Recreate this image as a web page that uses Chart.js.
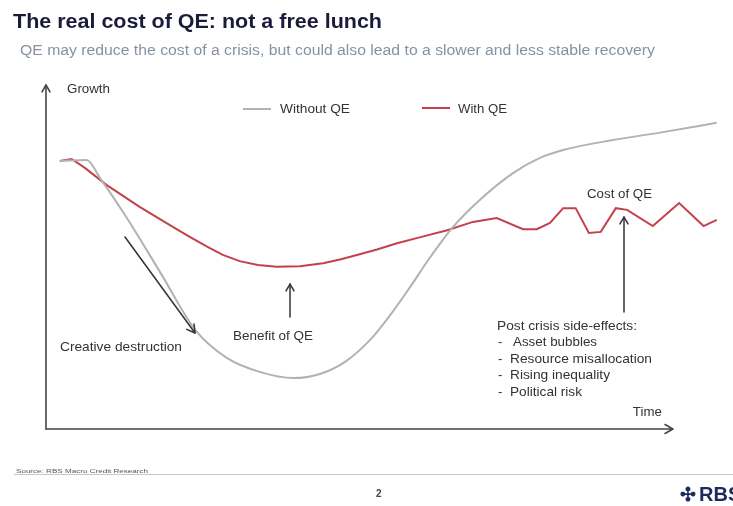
<!DOCTYPE html>
<html><head><meta charset="utf-8">
<script src="https://cdn.jsdelivr.net/npm/chart.js@4.4.1/dist/chart.umd.min.js"></script>
<style>html,body{margin:0;padding:0;background:#fff;overflow:hidden}canvas{display:block}</style>
</head><body>
<canvas id="c" width="733" height="506"></canvas>
<script>
// ---- data (time units: 0 = origin, 100 = end of time axis; growth units 0..100) ----
const seriesNames = ['Without QE', 'With QE'];
const timeWithoutQE   = [2.2, 6.5, 8.6, 12.6, 18.2, 23.8, 28.9, 34.1, 39.4, 43.7, 47.7, 51.7, 54.9, 58.1, 61.2, 64.9, 69.2, 74.5, 78.8, 82.5, 90.4, 98.4, 107.0];
const growthWithoutQE = [77.9, 78.2, 73.0, 62.2, 45.6, 28.8, 20.6, 16.6, 14.8, 16.0, 19.5, 25.9, 33.1, 41.3, 49.7, 58.7, 66.6, 74.4, 78.8, 81.1, 84.0, 86.3, 89.0];
const timeWithQE   = [2.2, 4.1, 6.2, 9.7, 15.0, 20.3, 23.0, 25.7, 28.2, 30.9, 33.8, 36.8, 40.5, 44.2, 46.9, 49.6, 52.8, 56.0, 59.6, 64.0, 68.1, 71.9, 76.1, 78.3, 80.4, 82.5, 84.5, 86.6, 88.5, 90.9, 92.7, 96.8, 101.0, 104.9, 107.0];
const growthWithQE = [77.9, 78.5, 75.9, 70.9, 64.5, 58.7, 55.8, 53.0, 50.6, 48.8, 47.7, 47.2, 47.3, 48.2, 49.3, 50.6, 52.2, 54.0, 55.7, 57.8, 60.2, 61.3, 58.1, 58.1, 59.9, 64.2, 64.2, 57.0, 57.3, 64.2, 63.7, 59.0, 65.7, 59.0, 60.8];
const timeAxisLabel = 'Time';
const growthAxisLabel = 'Growth';
const timeRange = [0, 108];
const growthRange = [0, 100];

const FONT = '"Liberation Sans", Arial, Helvetica, sans-serif';
const GREY = '#b2b2b2';
const RED = '#c4414b';
const INK = '#333333';

function zip(xs, ys) { return xs.map((x, i) => ({ x: x, y: ys[i] })); }

function txt(ctx, s, x, y, size, color, width, weight) {
  ctx.save();
  ctx.font = (weight || 'normal') + ' ' + size + 'px ' + FONT;
  ctx.fillStyle = color;
  ctx.textBaseline = 'alphabetic';
  const m = ctx.measureText(s).width;
  const k = width ? width / m : 1;
  ctx.translate(x, y);
  ctx.scale(k, 1);
  ctx.fillText(s, 0, 0);
  ctx.restore();
}

function arrow(ctx, x1, y1, x2, y2, color, lw, head) {
  ctx.save();
  ctx.strokeStyle = color; ctx.lineWidth = lw; ctx.lineCap = 'round'; ctx.lineJoin = 'round';
  ctx.beginPath(); ctx.moveTo(x1, y1); ctx.lineTo(x2, y2); ctx.stroke();
  const a = Math.atan2(y2 - y1, x2 - x1), h = head || 8, s = Math.PI / 6;
  ctx.beginPath();
  ctx.moveTo(x2 - h * Math.cos(a - s), y2 - h * Math.sin(a - s));
  ctx.lineTo(x2, y2);
  ctx.lineTo(x2 - h * Math.cos(a + s), y2 - h * Math.sin(a + s));
  ctx.stroke();
  ctx.restore();
}

const decor = {
  id: 'decor',
  beforeDraw(chart) {
    const ctx = chart.ctx;
    ctx.save(); ctx.fillStyle = '#ffffff'; ctx.fillRect(0, 0, chart.width, chart.height); ctx.restore();
  },
  beforeDatasetsDraw(chart) {
    const ctx = chart.ctx, xs = chart.scales.x, ys = chart.scales.y;
    const x0 = xs.getPixelForValue(0), y0 = ys.getPixelForValue(0);
    const xEnd = xs.getPixelForValue(100), yEnd = ys.getPixelForValue(100);
    arrow(ctx, x0, y0, x0, yEnd, '#444', 1.6, 8);
    arrow(ctx, x0, y0, xEnd, y0, '#444', 1.6, 9);
    txt(ctx, growthAxisLabel, x0 + 21, yEnd + 8, 13, INK, 43);
    txt(ctx, timeAxisLabel, xEnd - 40, y0 - 13, 13, INK, 29);
  },
  afterDraw(chart) {
    const ctx = chart.ctx;
    // titles
    txt(ctx, 'The real cost of QE: not a free lunch', 13, 28, 20, '#1b1b3a', 369, 'bold');
    txt(ctx, 'QE may reduce the cost of a crisis, but could also lead to a slower and less stable recovery', 20, 55, 14, '#8592a3', 635);
    // legend
    const ds = chart.data.datasets;
    ctx.save(); ctx.lineWidth = 2;
    ctx.strokeStyle = ds[0].borderColor; ctx.beginPath(); ctx.moveTo(243, 109); ctx.lineTo(271, 109); ctx.stroke();
    ctx.strokeStyle = ds[1].borderColor; ctx.beginPath(); ctx.moveTo(422, 108); ctx.lineTo(450, 108); ctx.stroke();
    ctx.restore();
    txt(ctx, ds[0].label, 280, 113, 13, INK, 70);
    txt(ctx, ds[1].label, 458, 113, 13, INK, 49);
    // annotations
    arrow(ctx, 125, 237, 195, 333, INK, 1.5, 9);
    txt(ctx, 'Creative destruction', 60, 351, 13, INK, 122);
    arrow(ctx, 290, 317, 290, 284, INK, 1.5, 8);
    txt(ctx, 'Benefit of QE', 233, 340, 13, INK, 80);
    txt(ctx, 'Cost of QE', 587, 198, 13, INK, 65);
    arrow(ctx, 624, 312, 624, 217, INK, 1.5, 8);
    txt(ctx, 'Post crisis side-effects:', 497, 330, 13, INK, 140);
    const items = [['Asset bubbles', 513, 84], ['Resource misallocation', 510, 142], ['Rising inequality', 510, 100], ['Political risk', 510, 72]];
    items.forEach((it, i) => {
      const yb = 346 + i * 16.7;
      txt(ctx, '-', 498, yb, 13, INK);
      txt(ctx, it[0], it[1], yb, 13, INK, it[2]);
    });
    // footer
    ctx.save(); ctx.strokeStyle = '#c8c8c8'; ctx.lineWidth = 1;
    ctx.beginPath(); ctx.moveTo(14, 474.5); ctx.lineTo(733, 474.5); ctx.stroke(); ctx.restore();
    txt(ctx, 'Source: RBS Macro Credit Research', 16, 473, 6, '#555', 132);
    txt(ctx, '2', 376, 497, 10, '#444', null, 'bold');
    txt(ctx, '\u2723', 680, 501, 19, '#1d2b5c', null, 'bold');
    txt(ctx, 'RBS', 699, 501, 20, '#1d2b5c', null, 'bold');
  }
};

new Chart(document.getElementById('c'), {
  type: 'line',
  data: {
    datasets: [
      { label: seriesNames[0], data: zip(timeWithoutQE, growthWithoutQE), borderColor: GREY, borderWidth: 2, pointRadius: 0, fill: false, cubicInterpolationMode: 'monotone' },
      { label: seriesNames[1], data: zip(timeWithQE, growthWithQE), borderColor: RED, borderWidth: 2, pointRadius: 0, fill: false, tension: 0 }
    ]
  },
  options: {
    responsive: false,
    animation: false,
    devicePixelRatio: 1,
    layout: { padding: { left: 46, right: 10, top: 85, bottom: 77 } },
    scales: {
      x: { type: 'linear', min: timeRange[0], max: timeRange[1], display: false },
      y: { type: 'linear', min: growthRange[0], max: growthRange[1], display: false }
    },
    plugins: { legend: { display: false }, tooltip: { enabled: false }, title: { display: false } },
    events: []
  },
  plugins: [decor]
});
</script>
</body></html>
